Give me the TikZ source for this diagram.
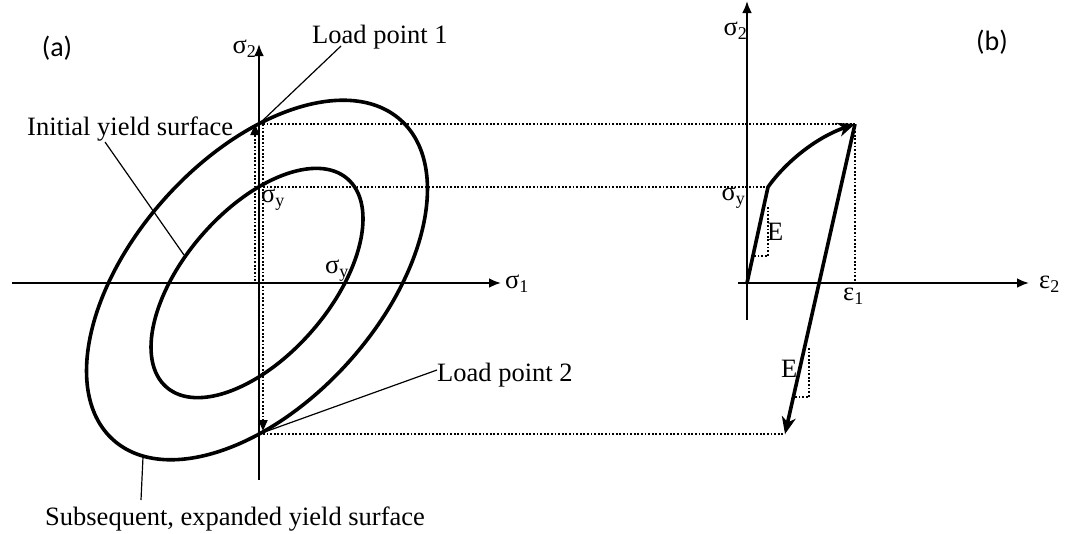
\documentclass[tikz,border=0pt]{standalone}
\usepackage{fontspec}
\setmainfont{Liberation Serif}
\newfontfamily\labfont{Carlito}
\usetikzlibrary{arrows.meta}
\newcommand\sbs[1]{\raisebox{-0.35ex}{\fontsize{18}{18}\selectfont #1}}
\begin{document}
\begin{tikzpicture}[x=1pt,y=-1pt,
  every node/.style={inner sep=0pt, font=\fontsize{26.5}{30}\selectfont},
  thickline/.style={line width=3.6pt},
  axis/.style={line width=2.9pt,-{Latex[length=12pt,width=10pt]}},
  leader/.style={line width=1.2pt},
  dots/.style={line width=1.8pt, dash pattern=on 1.8pt off 1.8pt},
  dotarrow/.style={dots, -{Triangle[length=11pt,width=9pt]}},
  bigarrow/.style={line width=3.6pt, -{Stealth[length=17pt,width=14pt,inset=5pt]}},
  sans/.style={font=\labfont\fontsize{28}{32}\selectfont},
]
\useasboundingbox (0,0) rectangle (1065,533);

% ---------- left: yield surfaces ----------
\coordinate (Oc) at (257,280);
\coordinate (Oi) at (257,283);
\draw[thickline, rotate around={48:(Oc)}] (Oc) ellipse [x radius=215, y radius=123];
\draw[thickline, rotate around={49:(Oi)}] (Oi) ellipse [x radius=138, y radius=73];

\coordinate (s1s) at (12,283);
\coordinate (s1e) at (501,283);
\coordinate (s2s) at (259,480);
\coordinate (s2e) at (259,44);
\draw[axis] (s1s) -- (s1e);
\draw[axis] (s2s) -- (s2e);

\coordinate (LP1) at (259,124);
\coordinate (LP2) at (259,434);
\coordinate (SY)  at (259,187);
\coordinate (O1l) at (255,281);
\coordinate (LP1l) at (255,124);
\coordinate (LP1r) at (263,124);
\coordinate (LP2r) at (263,431);
\coordinate (SYr) at (263,187);
\coordinate (LP2h) at (263,434);

\draw[dotarrow] (O1l) -- (LP1l);
\draw[dotarrow] (LP1r) -- (LP2r);

% labels left
\node[sans] (la) at (57,48) {(a)};
\node[anchor=base east] (ls2) at (256,53) {σ\sbs{2}};
\node[anchor=base west] (ls1) at (505,288) {σ\sbs{1}};
\node[anchor=base west] (lsy1) at (261,202) {σ\sbs{y}};
\node[anchor=base west] (lsy2) at (325,273) {σ\sbs{y}};

\node[anchor=base west] (lp1) at (312,43) {Load point 1};
\node[anchor=base west] (iys) at (27,135) {Initial yield surface};
\node[anchor=base west] (lp2) at (437,381) {Load point 2};
\node[anchor=base west] (sub) at (45,525) {Subsequent, expanded yield surface};

\coordinate (lp1a) at (341,46);
\coordinate (iysa) at (105,142);
\coordinate (iysb) at (184,255);
\coordinate (lp2a) at (437,370);
\coordinate (suba) at (141,500);
\coordinate (subb) at (143,457);
\draw[leader] (lp1a) -- (LP1);
\draw[leader] (iysa) -- (iysb);
\draw[leader] (lp2a) -- (LP2);
\draw[leader] (suba) -- (subb);

% ---------- right: stress-strain ----------
\coordinate (O2) at (747,283);
\coordinate (Y2) at (768,187);
\coordinate (P2) at (855,124);
\coordinate (Q2) at (785,434);
\coordinate (e2s) at (738,283);
\coordinate (e2e) at (1029,283);
\coordinate (r2s) at (747,320);
\coordinate (r2e) at (747,1);
\coordinate (P2b) at (855,281);

\draw[dots] (LP1r) -- (P2);
\draw[dots] (SYr) -- (Y2);
\draw[dots] (LP2h) -- (Q2);
\draw[dots] (P2) -- (P2b);

\draw[axis] (e2s) -- (e2e);
\draw[axis] (r2s) -- (r2e);

\draw[bigarrow, line join=round] (O2) -- (Y2) .. controls (785,163) and (815,138) .. (P2);
\draw[bigarrow] (P2) -- (Q2);

% slope triangles
\coordinate (t1a) at (768,207);
\coordinate (t1b) at (768,256);
\coordinate (t1c) at (751,256);
\coordinate (t2a) at (809,348);
\coordinate (t2b) at (809,397);
\coordinate (t2c) at (794,397);
\draw[dots] (t1a) -- (t1b) -- (t1c);
\draw[dots] (t2a) -- (t2b) -- (t2c);

\node[sans] (lb) at (992,42) {(b)};
\node[anchor=base east] (rs2) at (747,35) {σ\sbs{2}};
\node[anchor=base east] (rsy) at (745,200) {σ\sbs{y}};
\node[anchor=base west] (rE1) at (767,240) {E};
\node[anchor=base west] (rE2) at (781,377) {E};
\node[anchor=base west] (re1) at (843,300) {ε\sbs{1}};
\node[anchor=base west] (re2) at (1039,288) {ε\sbs{2}};
\end{tikzpicture}
\end{document}
